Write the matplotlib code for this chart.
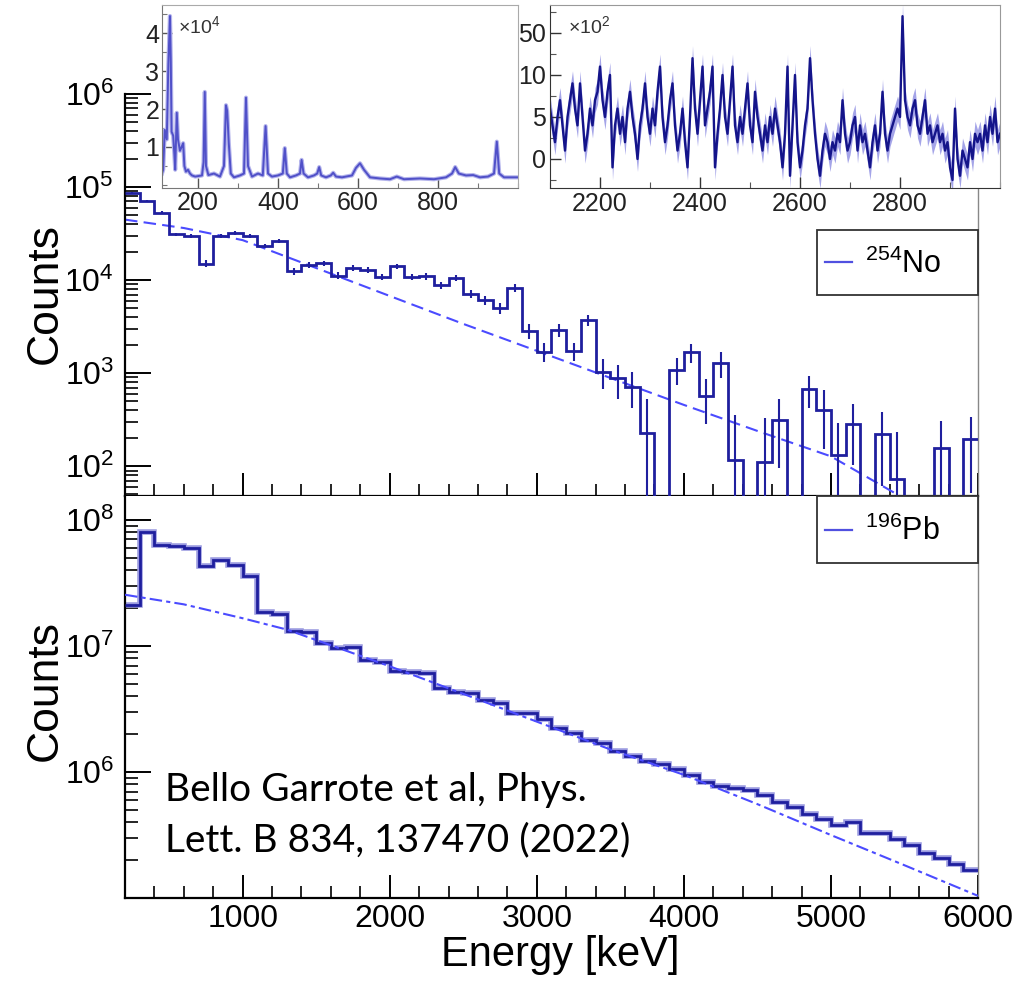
import matplotlib.pyplot as plt
from matplotlib.patches import Rectangle
from matplotlib.ticker import FixedLocator, FixedFormatter, LogLocator, NullFormatter, MultipleLocator
import numpy as np

plt.rcParams['font.family'] = ['Liberation Sans', 'DejaVu Sans']
plt.rcParams['mathtext.default'] = 'regular'

HIST = '#1f1f9e'
FIT = '#4b4bff'

# 100 keV bins, 200 - 6000 keV
bin_edges = list(range(200, 6001, 100))
bin_mid = [e + 50 for e in bin_edges[:-1]]

# 254No spectrum (upper panel)
no254 = [86000, 71000, 53000, 31000, 30000, 15000, 30000, 32000, 30000, 23400,
         26500, 12400, 14600, 15200, 11200, 13500, 12900, 10800, 14100, 10800,
         11000, 8800, 10500, 7100, 6100, 5000, 8300, 2850, 1710, 2900,
         1740, 3740, 1040, 880, 720, 226, 0, 1090, 1680, 576,
         1280, 117, 0, 112, 315, 0, 678, 403, 133, 283,
         0, 221, 73, 0, 0, 156, 0, 197]
no254_err = [2500, 2200, 2000, 1500, 1500, 1300, 1500, 1500, 1500, 1300,
             1400, 1000, 1000, 1000, 900, 900, 900, 850, 900, 850,
             850, 800, 800, 700, 700, 650, 800, 500, 400, 450,
             380, 500, 370, 350, 300, 300, 0, 350, 400, 290,
             400, 240, 0, 220, 220, 0, 260, 250, 160, 180,
             0, 160, 160, 0, 0, 150, 0, 145]

# 196Pb spectrum (lower panel)
pb196 = [2.12e7, 8.0e7, 6.3e7, 6.2e7, 6.0e7, 4.3e7, 4.8e7, 4.4e7, 3.6e7, 1.86e7,
         1.8e7, 1.31e7, 1.28e7, 1.06e7, 9.6e6, 9.8e6, 7.8e6, 7.4e6, 6.3e6, 6.2e6,
         6.1e6, 4.65e6, 4.33e6, 4.25e6, 3.76e6, 3.54e6, 2.94e6, 2.94e6, 2.61e6, 2.24e6,
         2.04e6, 1.81e6, 1.71e6, 1.46e6, 1.34e6, 1.22e6, 1.15e6, 1.05e6, 9.5e5, 8.4e5,
         7.7e5, 7.4e5, 7.2e5, 6.6e5, 5.8e5, 5.3e5, 4.6e5, 4.25e5, 3.8e5, 4.0e5,
         3.27e5, 3.27e5, 2.93e5, 2.64e5, 2.27e5, 2.07e5, 1.87e5, 1.67e5]

# fitted backgrounds
fit_E = [200, 600, 1000, 1500, 2000, 2500, 3000, 3500, 4000, 4500, 5000, 5500, 6000]
no_fit = [44700, 36300, 26900, 13500, 6760, 3390, 1740, 891, 457, 240, 128, 45, 16]
pb_fit_E = [200, 600, 1000, 1300, 2000, 2500, 3000, 3500, 4000, 4500, 5000, 5500, 6000]
pb_fit = [2.55e7, 2.14e7, 1.66e7, 1.35e7, 6.9e6, 4.17e6, 2.51e6, 1.51e6, 9.5e5,
          5.56e5, 3.16e5, 1.82e5, 1.04e5]

# low-energy inset (x10^4)
li_E = [110, 113, 117, 122, 126, 130, 132, 134, 138, 141, 143, 147, 150, 155, 159, 163, 166,
        170, 175, 180, 185, 193, 210, 214, 217, 220, 226, 240, 255, 265, 270, 273, 277, 282,
        290, 305, 315, 320, 325, 335, 350, 362, 369, 375, 385, 400, 412, 417, 422, 430, 445,
        455, 459, 464, 475, 490, 498, 503, 508, 520, 532, 538, 545, 560, 585, 595, 605, 615,
        630, 655, 680, 697, 715, 755, 790, 820, 835, 843, 852, 870, 888, 905, 925, 940, 947,
        953, 965, 1000]
li_v = [0.3, 0.4, 1.45, 1.2, 3.2, 4.45, 3.3, 1.4, 1.3, 0.8, 0.4, 1.9, 1.2, 0.9, 1.0, 1.1, 0.5,
        0.35, 0.4, 0.3, 0.25, 0.22, 0.25, 0.6, 2.45, 0.5, 0.26, 0.3, 0.22, 0.5, 2.1, 1.95, 1.1, 0.3,
        0.2, 0.25, 0.3, 2.3, 0.5, 0.22, 0.3, 0.25, 1.55, 0.3, 0.22, 0.25, 0.3, 0.97, 0.3, 0.2, 0.25,
        0.3, 0.66, 0.3, 0.2, 0.25, 0.3, 0.47, 0.25, 0.2, 0.25, 0.32, 0.22, 0.2, 0.25, 0.45, 0.57, 0.4,
        0.2, 0.17, 0.15, 0.22, 0.15, 0.17, 0.15, 0.2, 0.3, 0.47, 0.3, 0.25, 0.26, 0.2, 0.22, 0.3, 1.14,
        0.3, 0.2, 0.2]

# high-energy inset (x10^2), 5 keV steps from 2100 keV
ri_E = list(range(2100, 3001, 5))
ri_v = [6, 4, 2, 5, 7, 4, 1, 5, 7, 9, 6, 4, 9, 5, 1, 3, 6, 4, 7, 8,
        11, 7, 5, 8, 10, -1, 4, 6, 3, 5, 2, 6, 8, 5, 3, 0, 4, 6, 9, 5,
        3, 6, 4, 8, 11, 5, 2, 4, 7, 9, 4, 1, 3, 6, 2, -1, 5, 12, 6, 3,
        7, 11, 4, 6, 8, 11, -1, 3, 6, 10, 5, 3, 7, 11, 4, 2, 5, 3, 6, 9,
        4, 2, 8, 5, 3, 1, 4, 2, 5, 3, 6, 4, 2, -1, 3, 11, -2, 4, 10, 2,
        -1, 1, 4, 6, 12, 7, 3, 0, -2, 1, 3, 2, 0, 2, 1, 3, 2, 7, 3, 1,
        2, 4, 5, 1, 4, 2, 3, 1, -1, 2, 4, 1, 3, 8, 3, 1, 3, 4, 5, 6,
        5, 17, 7, 5, 4, 6, 7, 4, 3, 5, 7, 3, 4, 2, 3, 4, 2, 3, 1, 2,
        -1, -2.5, 6, 0, -2, 1, 0, -1, 2, 0, 3, 2, 3, 1, 4, 2, 5, 3, 6, 2, 3]


def style_main(ax, ymajors):
    ax.set_xlim(200, 6000)
    ax.set_yscale('log')
    ax.spines['top'].set_visible(False)
    ax.spines['right'].set_color('#888888')
    ax.spines['right'].set_linewidth(1.0)
    ax.spines['left'].set_linewidth(1.6)
    ax.spines['bottom'].set_linewidth(1.6)
    ax.xaxis.set_major_locator(MultipleLocator(1000))
    ax.xaxis.set_minor_locator(MultipleLocator(200))
    ax.yaxis.set_major_locator(FixedLocator(ymajors))
    ax.yaxis.set_minor_locator(LogLocator(base=10, subs=np.arange(2, 10) * 1.0, numticks=20))
    ax.yaxis.set_minor_formatter(NullFormatter())
    ax.tick_params(axis='x', which='major', direction='in', length=16.5, width=1.4,
                   top=False, labelsize=23, pad=4)
    ax.tick_params(axis='x', which='minor', direction='in', length=8.5, width=1.2, top=False)
    ax.tick_params(axis='y', which='major', direction='in', length=18.5, width=1.4,
                   right=False, labelsize=23, pad=8)
    ax.tick_params(axis='y', which='minor', direction='in', length=9, width=1.2, right=False)


def legend_box(ax, y0, y1, text):
    ax.add_patch(Rectangle((0.8113, y0), 0.1887, y1 - y0, transform=ax.transAxes,
                           fill=True, facecolor='white', edgecolor='#333333', lw=1.3,
                           zorder=6, clip_on=False))
    ym = (y0 + y1) / 2
    ax.plot([0.8206, 0.852], [ym, ym], transform=ax.transAxes, color='#5050e0', lw=1.6,
            zorder=7, clip_on=False)
    ax.text(0.868, ym - 0.005, text, transform=ax.transAxes, fontsize=22, va='center',
            ha='left', zorder=7)


fig = plt.figure(figsize=(10.35, 9.81), dpi=100)
ax1 = fig.add_axes([0.1208, 0.4944, 0.8241, 0.4098])
ax2 = fig.add_axes([0.1208, 0.0846, 0.8241, 0.4098])

# upper panel: 254No
no_plot = [v if v > 0 else 1.0 for v in no254]
ax1.stairs(no_plot, bin_edges, baseline=None, color=HIST, lw=2.0, zorder=3)
err_mid = [m for m, v in zip(bin_mid, no254) if v > 0]
err_val = [v for v in no254 if v > 0]
err_e = [e for e, v in zip(no254_err, no254) if v > 0]
ax1.errorbar(err_mid, err_val, yerr=err_e, fmt='none', ecolor=HIST, elinewidth=1.5, zorder=3)
ax1.plot(fit_E, no_fit, color=FIT, lw=1.5, dashes=(6, 3), zorder=2)
style_main(ax1, [1e2, 1e3, 1e4, 1e5, 1e6])
ax1.set_ylim(48, 1e6)
ax1.tick_params(axis='x', labelbottom=False)
legend_box(ax1, 0.5, 0.6617, r'$^{254}$No')

# lower panel: 196Pb
ax2.stairs(pb196, bin_edges, baseline=None, color='#9a9ae0', lw=4.0, zorder=2)
ax2.stairs(pb196, bin_edges, baseline=None, color=HIST, lw=2.0, zorder=3)
ax2.plot(pb_fit_E, pb_fit, color=FIT, lw=1.5, dashes=(6, 2, 2, 2), zorder=4)
style_main(ax2, [1e6, 1e7, 1e8])
ax2.set_ylim(1e5, 1.55e8)
legend_box(ax2, 0.833, 1.0, r'$^{196}$Pb')

ax2.text(0.047, 0.2687, 'Bello Garrote et al, Phys.', transform=ax2.transAxes,
         fontsize=28, family=['Lato', 'DejaVu Sans'], va='center', ha='left')
ax2.text(0.047, 0.144, 'Lett. B 834, 137470 (2022)', transform=ax2.transAxes,
         fontsize=28, family=['Lato', 'DejaVu Sans'], va='center', ha='left')

fig.text(0.0435, 0.7013, 'Counts', rotation=90, fontsize=32, ha='center', va='center')
fig.text(0.0435, 0.2966, 'Counts', rotation=90, fontsize=32, ha='center', va='center')
fig.text(0.541, 0.026, 'Energy [keV]', fontsize=30, ha='center', va='center')

# insets
axL = fig.add_axes([0.1565, 0.8084, 0.344, 0.1865], zorder=5)
axL.plot(li_E, li_v, color='#b4b4ec', lw=3.0)
axL.plot(li_E, li_v, color='#5050c8', lw=1.4)
axL.set_xlim(110, 1000)
axL.set_ylim(-0.08, 4.74)
axL.set_xticks([200, 400, 600, 800])
axL.xaxis.set_minor_locator(MultipleLocator(100))
axL.set_yticks([1, 2, 3, 4])
axL.yaxis.set_minor_locator(MultipleLocator(0.5))
axL.tick_params(which='major', direction='in', length=7, width=1, labelsize=18, pad=2,
                colors='#555555', labelcolor='#222222')
axL.tick_params(which='minor', direction='in', length=3.5, width=0.8, colors='#777777')
for s in ['top', 'right']:
    axL.spines[s].set_color('#aaaaaa')
for s in ['left', 'bottom']:
    axL.spines[s].set_color('#777777')
axL.text(0.045, 0.945, r'$\times10^{4}$', transform=axL.transAxes, fontsize=14,
         va='top', ha='left', color='#333333')

axR = fig.add_axes([0.5314, 0.8084, 0.4348, 0.1865], zorder=5)
ri_lo = [v - 1.5 for v in ri_v]
ri_hi = [v + 1.5 for v in ri_v]
axR.fill_between(ri_E, ri_lo, ri_hi, color='#a4a4e8', lw=0)
axR.plot(ri_E, ri_v, color='#14148a', lw=1.7)
axR.set_xlim(2100, 3000)
axR.set_ylim(-3.45, 18.33)
axR.set_xticks([2200, 2400, 2600, 2800])
axR.xaxis.set_minor_locator(MultipleLocator(100))
axR.yaxis.set_major_locator(FixedLocator([0, 5, 10, 15]))
axR.yaxis.set_major_formatter(FixedFormatter(['0', '5', '10', '50']))
axR.yaxis.set_minor_locator(MultipleLocator(2.5))
axR.tick_params(which='major', direction='in', length=8, width=1, labelsize=18, pad=3,
                colors='#333333', labelcolor='#222222')
axR.tick_params(which='minor', direction='in', length=4, width=0.8, colors='#555555')
for s in ['top', 'right']:
    axR.spines[s].set_color('#999999')
for s in ['left', 'bottom']:
    axR.spines[s].set_color('#333333')
axR.text(0.04, 0.945, r'$\times10^{2}$', transform=axR.transAxes, fontsize=14,
         va='top', ha='left', color='#333333')

fig.savefig('out.png', dpi=100)
